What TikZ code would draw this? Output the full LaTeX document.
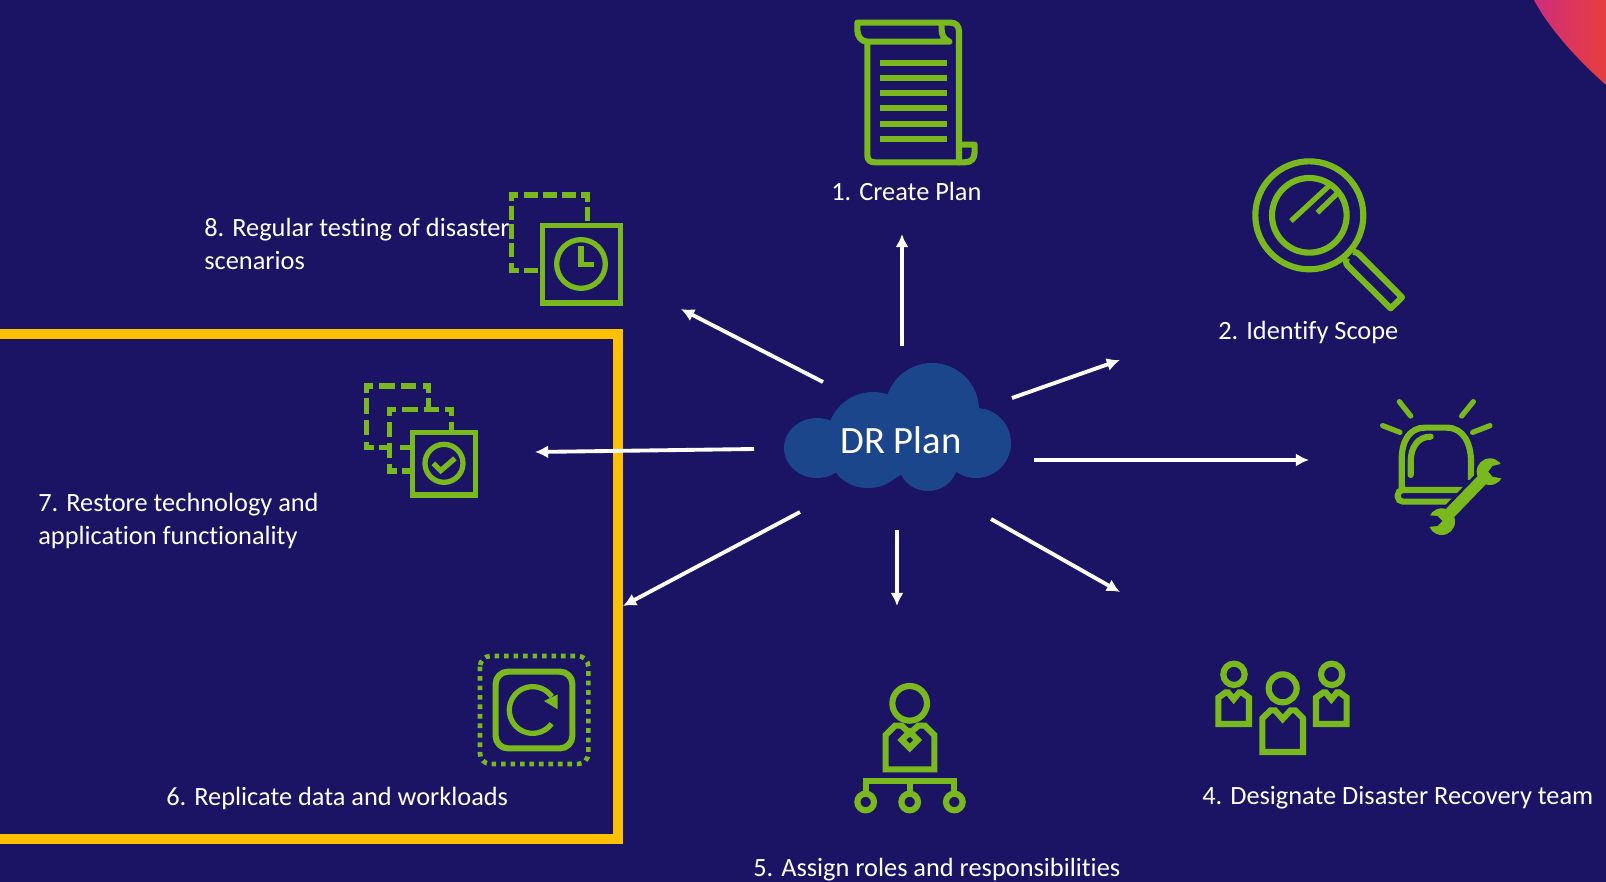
\documentclass[tikz,border=0pt]{standalone}
\usepackage{fontspec}
\setmainfont[Ligatures=CommonOff]{Carlito}
\usetikzlibrary{arrows.meta, calc}
\definecolor{drback}{RGB}{27,20,100}
\definecolor{drcloud}{RGB}{28,70,140}
\definecolor{drgreen}{RGB}{122,185,30}
\definecolor{dryellow}{RGB}{255,192,0}
\definecolor{drpink}{RGB}{205,45,125}
\definecolor{drred}{RGB}{232,62,60}
\tikzset{
	zoomed/.style={x=0.006667cm,y=-0.006667cm},
	iconline/.style={draw=drgreen, line width=3.5pt},
	iconthin/.style={draw=drgreen, line width=3pt},
	steplabel/.style={text=white, font=\fontsize{15}{18.4}\selectfont, align=left, inner sep=0pt},
	spoke/.style={draw=white, line width=2.2pt, -{Latex[length=7.5pt,width=7.5pt]}},
}
\begin{document}
\begin{tikzpicture}[x=0.02cm, y=-0.02cm, line join=miter]
\useasboundingbox (0,0) rectangle (1606,882);
\fill[drback] (0,0) rectangle (1606,882);
% corner
\shade[left color=drpink, right color=drred] (1534,0) .. controls (1550,30) and (1578,60) .. (1606,85) -- (1606,0) -- cycle;

%========================
% frame round steps 6 and 7
%========================
\draw[dryellow, line width=5.2pt] (0,334) -- (618,334) -- (618,839) -- (0,839);

%========================
% cloud
%========================
\fill[drcloud] (817,448) ellipse (33 and 30);
\fill[drcloud] (873,438) circle (46);
\fill[drcloud] (932,410) circle (47);
\fill[drcloud] (976,443) circle (35);
\fill[drcloud] (868,457) ellipse (37 and 31);
\fill[drcloud] (928,462) ellipse (30 and 29);
\fill[drcloud] (830,430) rectangle (975,470);
\node[text=white, font=\fontsize{22}{26}\selectfont, inner sep=0pt] (drplan) at (901,440) {DR Plan};

%========================
% spokes
%========================
\coordinate (from1) at (902,346);  \coordinate (to1) at (902,234);
\coordinate (from2) at (1012,398); \coordinate (to2) at (1120,360);
\coordinate (from3) at (1034,460); \coordinate (to3) at (1309,460);
\coordinate (from4) at (991,519);  \coordinate (to4) at (1120,592);
\coordinate (from5) at (897,530);  \coordinate (to5) at (897,606);
\coordinate (from6) at (800,512);  \coordinate (to6) at (623,606);
\coordinate (from7) at (754,449);  \coordinate (to7) at (535,452);
\coordinate (from8) at (823,382);  \coordinate (to8) at (681,309);
\foreach \i in {1,...,8}
	\draw[spoke] (from\i) -- (to\i);

%========================
% labels
%========================
\node[steplabel, anchor=west] (create) at (831,191) {1. Create Plan};
\node[steplabel, anchor=west] (scope) at (1218,332) {2. Identify Scope};
\node[steplabel, anchor=west] (team) at (1202,798) {4. Designate Disaster Recovery team};
\node[steplabel, anchor=west] (roles) at (753,870) {5. Assign roles and responsibilities};
\node[steplabel, anchor=west] (replicate) at (166,798) {6. Replicate data and workloads};
\node[steplabel, anchor=west] (restore) at (38,521) {7. Restore technology and\\application functionality};
\node[steplabel, anchor=west] (testing) at (204,244) {8. Regular testing of disaster\\scenarios};

%========================
% 1: scroll
%========================
\begin{scope}[shift={(820,0)}, zoomed]
	\draw[iconline, line join=round] (142,125) -- (142,465) .. controls (142,480) and (150,487) .. (165,487) -- (435,487)
		.. controls (455,487) and (464,475) .. (464,455) -- (464,434) -- (417,434);
	\draw[iconline, line cap=round, line join=round] (417,487) -- (417,95) .. controls (417,78) and (408,68) .. (392,68) -- (112,68) -- (112,90)
		.. controls (112,110) and (125,125) .. (142,125) -- (388,125) .. controls (372,118) and (365,105) .. (365,90) -- (365,68);
	\foreach \y in {188,234,280,325,371,416}
		\draw[iconline] (180,\y) -- (380,\y);
\end{scope}

%========================
% 2: magnifier
%========================
\begin{scope}[shift={(1230,140)}, zoomed]
	\draw[iconline] (238,226) circle (162);
	\draw[iconline] (238,226) circle (112);
	\draw[iconthin] (183,243) -- (300,135);
	\draw[iconthin] (262,218) -- (322,160);
	\draw[iconline, line join=round] (350,355) .. controls (345,368) and (350,375) .. (358,382) -- (482,505) -- (516,472) -- (392,348) .. controls (385,340) and (378,335) .. (370,335);
\end{scope}

%========================
% 3: alarm and wrench
%========================
\begin{scope}[shift={(1360,380)}, zoomed]
	\draw[iconthin, line cap=round] (118,65) -- (152,108);
	\draw[iconthin, line cap=round] (340,65) -- (305,108);
	\draw[iconthin, line cap=round] (68,137) -- (120,157);
	\draw[iconthin, line cap=round] (390,137) -- (338,157);
	\draw[iconline] (125,330) -- (125,240) .. controls (125,180) and (150,143) .. (195,143) -- (260,143)
		.. controls (310,143) and (333,190) .. (333,245) -- (333,300);
	\draw[iconline, line cap=round] (152,285) -- (152,245) .. controls (152,200) and (175,170) .. (212,170);
	\draw[iconline, rounded corners=3pt] (320,330) -- (113,330) -- (113,365) -- (290,365);
	% gap round the wrench
	\draw[drback, line width=10pt] (245,425) -- (390,275);
	\draw[drgreen, line width=6.6pt] (245,425) -- (390,275);
	\fill[drgreen] (390,275) circle (40);
	\fill[drgreen] (245,425) circle (40);
	\fill[drback] (440,248) -- (398,258) -- (385,275) -- (398,290) -- (440,298) -- cycle;
	\fill[drback] (195,405) -- (232,408) -- (247,423) -- (232,438) -- (195,442) -- cycle;
\end{scope}

%========================
% 4: team
%========================
\begin{scope}[shift={(1200,650)}, zoomed]
	\draw[iconline] (102,73) circle (32);
	\draw[iconline] (395,73) circle (32);
	\draw[iconline] (248,115) circle (42);
	\draw[iconline] (55,222) -- (55,143) -- (77,127) -- (84,127) -- (101,148) -- (118,127) -- (125,127) -- (147,143) -- (147,222) -- cycle;
	\draw[iconline] (348,222) -- (348,143) -- (370,127) -- (377,127) -- (394,148) -- (411,127) -- (418,127) -- (440,143) -- (440,222) -- cycle;
	\draw[iconline] (187,306) -- (187,205) -- (212,181) -- (225,181) -- (248,207) -- (272,181) -- (285,181) -- (309,205) -- (309,306) -- cycle;
\end{scope}

%========================
% 5: person and tree
%========================
\begin{scope}[shift={(840,670)}, zoomed]
	\draw[iconline] (209,100) circle (52);
	\draw[iconline] (137,298) -- (137,195) -- (165,167) -- (185,167) -- (209,190) -- (235,167) -- (255,167) -- (283,195) -- (283,298) -- cycle;
	\draw[iconline] (209,186) -- (233,210) -- (209,234) -- (185,210) -- cycle;
	\draw[iconline] (77,365) -- (77,332) -- (343,332) -- (343,365);
	\draw[iconline] (209,332) -- (209,365);
	\foreach \x in {77,209,343}
		\draw[iconline] (\x,396) circle (25);
\end{scope}

%========================
% 6: replicate
%========================
\begin{scope}[shift={(465,640)}, zoomed]
	\draw[iconline, rounded corners=7pt] (92,95) rectangle (322,325);
	\draw[drgreen, line width=2.65pt, dash pattern=on 2.65pt off 2.75pt, rounded corners=6pt] (45,48) rectangle (370,372);
	\draw[iconthin] plot[domain=36:325, samples=60] ({203+70*cos(\x)},{210+70*sin(\x)});
	\fill[drgreen] (237,183) -- (278,163) -- (278,208) -- cycle;
\end{scope}

%========================
% 7: restore
%========================
\begin{scope}[shift={(350,370)}, zoomed]
	\draw[iconthin] (187,187) rectangle (377,375);
	\draw[iconthin] (282,280) circle (57);
	\draw[iconthin] (250,280) -- (272,302) -- (315,265);
	% outer dashes
	\draw[iconthin] (50,68) -- (50,48) -- (70,48);
	\draw[iconthin] (88,48) -- (135,48);
	\draw[iconthin] (152,48) -- (198,48);
	\draw[iconthin] (218,48) -- (236,48) -- (236,70);
	\draw[iconthin] (236,85) -- (236,118);
	\draw[iconthin] (50,85) -- (50,132);
	\draw[iconthin] (50,150) -- (50,195);
	\draw[iconthin] (50,215) -- (50,233) -- (72,233);
	\draw[iconthin] (88,233) -- (119,233);
	% inner dashes
	\draw[iconthin] (119,137) -- (119,118) -- (137,118);
	\draw[iconthin] (157,118) -- (205,118);
	\draw[iconthin] (222,118) -- (268,118);
	\draw[iconthin] (286,118) -- (305,118) -- (305,137);
	\draw[iconthin] (305,155) -- (305,187);
	\draw[iconthin] (119,155) -- (119,200);
	\draw[iconthin] (119,218) -- (119,265);
	\draw[iconthin] (119,283) -- (119,303) -- (140,303);
	\draw[iconthin] (155,303) -- (187,303);
	\draw[iconthin] (150,233) -- (187,233);
\end{scope}

%========================
% 8: testing
%========================
\begin{scope}[shift={(495,180)}, zoomed]
	\draw[iconthin] (143,137) rectangle (376,369);
	\draw[iconthin] (258,252) circle (73);
	\draw[iconthin] (258,198) -- (258,254) -- (297,254);
	\draw[iconthin] (50,62) -- (50,45) -- (70,45);
	\draw[iconthin] (87,45) -- (130,45);
	\draw[iconthin] (143,45) -- (185,45);
	\draw[iconthin] (200,45) -- (242,45);
	\draw[iconthin] (258,45) -- (278,45) -- (278,65);
	\draw[iconthin] (278,80) -- (278,122);
	\draw[iconthin] (50,78) -- (50,120);
	\draw[iconthin] (50,133) -- (50,176);
	\draw[iconthin] (50,190) -- (50,232);
	\draw[iconthin] (50,250) -- (50,271) -- (72,271);
	\draw[iconthin] (87,271) -- (129,271);
\end{scope}
\end{tikzpicture}
\end{document}
